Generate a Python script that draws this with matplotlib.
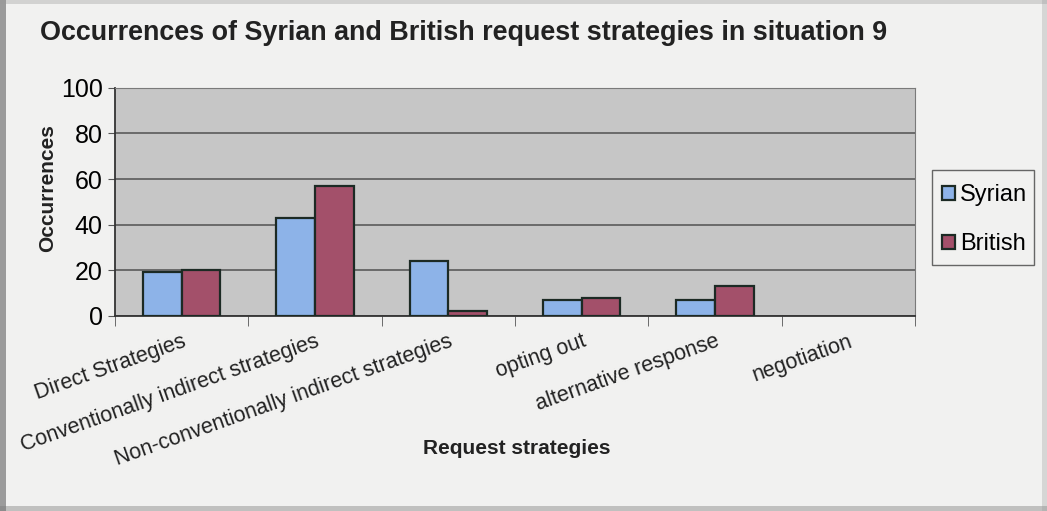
import numpy as np
import matplotlib.pyplot as plt
from matplotlib.patches import Rectangle

plt.rcParams['font.family'] = ['Liberation Sans', 'DejaVu Sans']

categories = ['Direct Strategies', 'Conventionally indirect strategies',
              'Non-conventionally indirect strategies', 'opting out',
              'alternative response', 'negotiation']
syrian = [19, 43, 24, 7, 7, 0]
british = [20, 57, 2, 8, 13, 0]
yticks = [0, 20, 40, 60, 80, 100]

W, H = 1047, 511
fig = plt.figure(figsize=(W / 100, H / 100), dpi=100, facecolor='#f1f1f0')
ax = fig.add_axes([0.110, 0.382, 0.764, 0.446])
ax.set_facecolor('#c6c6c6')

x = np.arange(len(categories))
w = 0.29
# zero-height bars get no outline
ax.bar(x - w / 2, syrian, w, color='#8db3e8', edgecolor='#1c2a24',
       linewidth=[1.6 if v else 0 for v in syrian], label='Syrian', zorder=3)
ax.bar(x + w / 2, british, w, color='#a3506a', edgecolor='#1c2a24',
       linewidth=[1.6 if v else 0 for v in british], label='British', zorder=3)

ax.set_xlim(-0.5, len(categories) - 0.5)
ax.set_ylim(0, 100)
ax.set_yticks(yticks)
ax.tick_params(axis='y', labelsize=18, length=5, color='#555555', pad=4)
ax.yaxis.grid(True, color='#5a5a5a', linewidth=1.2, zorder=0)

# category labels sit between boundary ticks
ax.set_xticks(x)
ax.set_xticklabels(categories, rotation=19.5, ha='right', rotation_mode='anchor',
                   fontsize=15.5, color='#222222')
ax.tick_params(axis='x', length=0, pad=11)
ax.set_xticks(np.arange(len(categories) + 1) - 0.5, minor=True)
ax.tick_params(axis='x', which='minor', length=7, color='#555555')

for s in ['top', 'right']:
    ax.spines[s].set_color('#7a7a7a')
for s in ['left', 'bottom']:
    ax.spines[s].set_color('#333333')
    ax.spines[s].set_linewidth(1.3)

fig.text(48 / W, 1 - 188 / H, 'Occurrences', rotation=90, fontsize=15,
         fontweight='bold', ha='center', va='center', color='#222222')
fig.text(517 / W, 1 - 448 / H, 'Request strategies', fontsize=15,
         fontweight='bold', ha='center', va='center', color='#222222')
fig.text(40 / W, 1 - 33 / H,
         'Occurrences of Syrian and British request strategies in situation 9',
         fontsize=19.4, fontweight='bold', color='#222222', va='center')

# legend with its own box
fig.patches.append(Rectangle((932 / W, 1 - 265 / H), 102 / W, 95 / H,
                             transform=fig.transFigure, facecolor='#f1f1f0',
                             edgecolor='#666666', linewidth=1.0, zorder=1))
leg = fig.legend(loc='upper left', bbox_to_anchor=(942 / W, 1 - 184 / H),
                 fontsize=17, frameon=False, handlelength=0.55,
                 handleheight=0.55, handletextpad=0.2, labelspacing=1.15,
                 borderpad=0, borderaxespad=0)

# shadowed page edges
fig.patches.append(Rectangle((0, 0), 6 / W, 1, transform=fig.transFigure,
                             facecolor='#555555', alpha=0.55, lw=0, zorder=0))
fig.patches.append(Rectangle((0, 0), 1, 5 / H, transform=fig.transFigure,
                             facecolor='#777777', alpha=0.4, lw=0, zorder=0))
fig.patches.append(Rectangle((0, 1 - 4 / H), 1, 4 / H, transform=fig.transFigure,
                             facecolor='#999999', alpha=0.35, lw=0, zorder=0))
fig.patches.append(Rectangle((1 - 5 / W, 0), 5 / W, 1, transform=fig.transFigure,
                             facecolor='#999999', alpha=0.3, lw=0, zorder=0))

fig.savefig('out.png', dpi=100, facecolor=fig.get_facecolor())
